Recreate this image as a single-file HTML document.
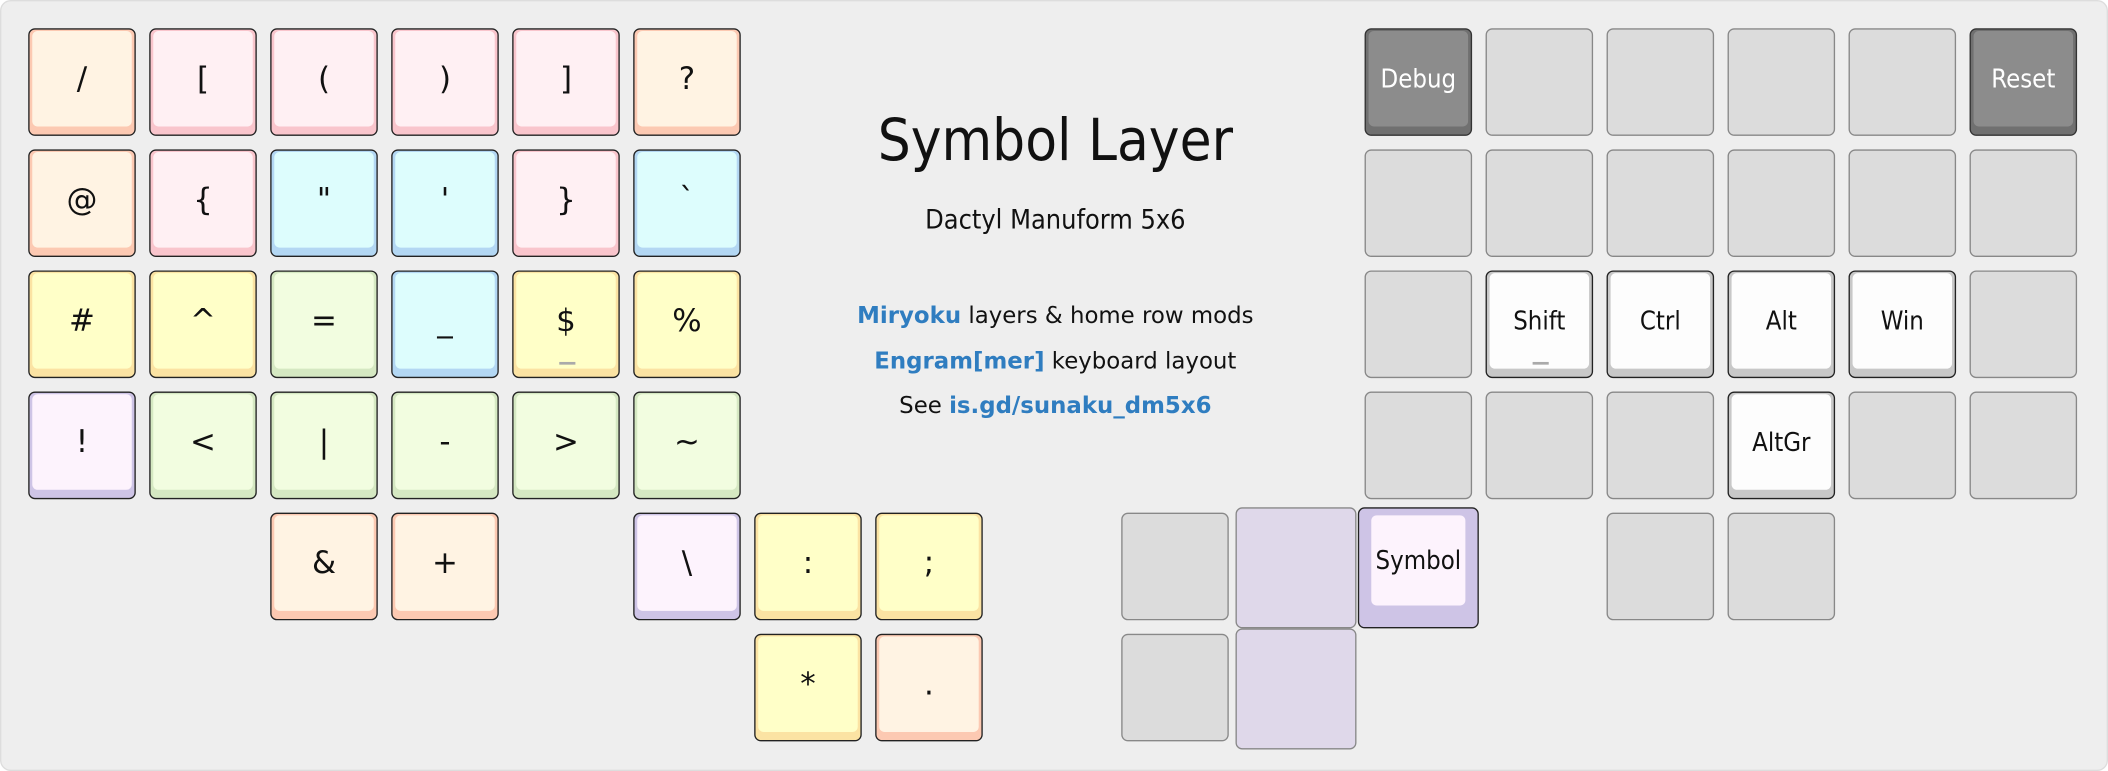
<!DOCTYPE html>
<html><head><meta charset="utf-8"><style>
html,body{margin:0;padding:0;width:2108px;height:771px;overflow:hidden;background:#fff}
#w{position:absolute;left:0;top:0;width:1568px;height:573px;transform:scale(1.34439,1.34555);transform-origin:0 0}
#bg{position:absolute;left:0;top:0;width:1566px;height:571px;background:#eeeeee;border:1px solid #ddd;border-radius:8px}
.k{position:absolute;width:78px;height:78px;border:1px solid #222;border-radius:5px;box-sizing:content-box}
.k .f{position:absolute;left:2px;right:2px;top:1px;bottom:6px;border-radius:4px;display:flex;align-items:center;justify-content:center;font-family:"DejaVu Sans","Liberation Sans",sans-serif;font-size:23px;color:#111}
.g{position:absolute;width:78px;height:78px;border:1px solid #888;border-radius:5px;background:#dcdcdc}
.o{background:#fcc9b2}.o .f{background:#fff3e3}
.p{background:#f9c5cc}.p .f{background:#fff0f3}
.c{background:#b3d7f3}.c .f{background:#ddfdfd}
.y{background:#fbe3a3}.y .f{background:#ffffc8}
.n{background:#d5e8c2}.n .f{background:#f2fde0}
.l{background:#cec4e6}.l .f{background:#fdf3fd}
.w{background:#c8c8c8}.w .f{background:#fdfdfd;font-size:19px;font-family:"DejaVu Sans Condensed","DejaVu Sans",sans-serif}
.d{background:#707070;border-color:#333}.d .f{background:#8c8c8c;color:#fff;font-size:19px;font-family:"DejaVu Sans Condensed","DejaVu Sans",sans-serif}
.u{position:absolute;left:34px;bottom:9px;width:12px;height:2px;background:#aaa}
.t{position:absolute;left:560px;width:450px;text-align:center;font-family:"DejaVu Sans","Liberation Sans",sans-serif;color:#111}
.t b{color:#2f7dc0}
</style></head><body><div id="w"><div id="bg"></div>

<div class="k o" style="left:21px;top:21px"><div class="f">/</div></div>
<div class="k p" style="left:111px;top:21px"><div class="f">[</div></div>
<div class="k p" style="left:201px;top:21px"><div class="f">(</div></div>
<div class="k p" style="left:291px;top:21px"><div class="f">)</div></div>
<div class="k p" style="left:381px;top:21px"><div class="f">]</div></div>
<div class="k o" style="left:471px;top:21px"><div class="f">?</div></div>

<div class="k o" style="left:21px;top:111px"><div class="f">@</div></div>
<div class="k p" style="left:111px;top:111px"><div class="f">{</div></div>
<div class="k c" style="left:201px;top:111px"><div class="f">"</div></div>
<div class="k c" style="left:291px;top:111px"><div class="f">'</div></div>
<div class="k p" style="left:381px;top:111px"><div class="f">}</div></div>
<div class="k c" style="left:471px;top:111px"><div class="f">`</div></div>

<div class="k y" style="left:21px;top:201px"><div class="f">#</div></div>
<div class="k y" style="left:111px;top:201px"><div class="f">^</div></div>
<div class="k n" style="left:201px;top:201px"><div class="f">=</div></div>
<div class="k c" style="left:291px;top:201px"><div class="f">_</div></div>
<div class="k y" style="left:381px;top:201px"><div class="f">$</div><div class="u"></div></div>
<div class="k y" style="left:471px;top:201px"><div class="f">%</div></div>

<div class="k l" style="left:21px;top:291px"><div class="f">!</div></div>
<div class="k n" style="left:111px;top:291px"><div class="f">&lt;</div></div>
<div class="k n" style="left:201px;top:291px"><div class="f">|</div></div>
<div class="k n" style="left:291px;top:291px"><div class="f">-</div></div>
<div class="k n" style="left:381px;top:291px"><div class="f">&gt;</div></div>
<div class="k n" style="left:471px;top:291px"><div class="f">~</div></div>

<div class="k o" style="left:201px;top:381px"><div class="f">&amp;</div></div>
<div class="k o" style="left:291px;top:381px"><div class="f">+</div></div>
<div class="k l" style="left:471px;top:381px"><div class="f">\</div></div>
<div class="k y" style="left:561px;top:381px"><div class="f">:</div></div>
<div class="k y" style="left:651px;top:381px"><div class="f">;</div></div>
<div class="k y" style="left:561px;top:471px"><div class="f">*</div></div>
<div class="k o" style="left:651px;top:471px"><div class="f">.</div></div>

<div class="t" style="top:80px;font-size:43px;font-family:'DejaVu Sans Condensed','DejaVu Sans',sans-serif">Symbol Layer</div>
<div class="t" style="top:151px;font-size:20px;font-family:'DejaVu Sans Condensed','DejaVu Sans',sans-serif">Dactyl Manuform 5x6</div>
<div class="t" style="top:225px;font-size:17px"><b>Miryoku</b> layers &amp; home row mods</div>
<div class="t" style="top:259px;font-size:17px"><b>Engram[mer]</b> keyboard layout</div>
<div class="t" style="top:292px;font-size:17px">See <b>is.gd/sunaku_dm5x6</b></div>

<div class="k d" style="left:1015px;top:21px"><div class="f">Debug</div></div>
<div class="g" style="left:1105px;top:21px"></div>
<div class="g" style="left:1195px;top:21px"></div>
<div class="g" style="left:1285px;top:21px"></div>
<div class="g" style="left:1375px;top:21px"></div>
<div class="k d" style="left:1465px;top:21px"><div class="f">Reset</div></div>

<div class="g" style="left:1015px;top:111px"></div>
<div class="g" style="left:1105px;top:111px"></div>
<div class="g" style="left:1195px;top:111px"></div>
<div class="g" style="left:1285px;top:111px"></div>
<div class="g" style="left:1375px;top:111px"></div>
<div class="g" style="left:1465px;top:111px"></div>

<div class="g" style="left:1015px;top:201px"></div>
<div class="k w" style="left:1105px;top:201px"><div class="f">Shift</div><div class="u"></div></div>
<div class="k w" style="left:1195px;top:201px"><div class="f">Ctrl</div></div>
<div class="k w" style="left:1285px;top:201px"><div class="f">Alt</div></div>
<div class="k w" style="left:1375px;top:201px"><div class="f">Win</div></div>
<div class="g" style="left:1465px;top:201px"></div>

<div class="g" style="left:1015px;top:291px"></div>
<div class="g" style="left:1105px;top:291px"></div>
<div class="g" style="left:1195px;top:291px"></div>
<div class="k w" style="left:1285px;top:291px"><div class="f">AltGr</div></div>
<div class="g" style="left:1375px;top:291px"></div>
<div class="g" style="left:1465px;top:291px"></div>

<div class="g" style="left:834px;top:381px"></div>
<div class="g" style="left:919px;top:377px;width:88px;height:88px;background:#dfd8ea"></div>
<div class="k l" style="left:1010px;top:377px;width:88px;height:88px"><div class="f" style="left:9px;right:9px;top:5px;bottom:16px;font-size:19px;font-family:'DejaVu Sans Condensed','DejaVu Sans',sans-serif">Symbol</div></div>
<div class="g" style="left:1195px;top:381px"></div>
<div class="g" style="left:1285px;top:381px"></div>
<div class="g" style="left:834px;top:471px"></div>
<div class="g" style="left:919px;top:467px;width:88px;height:88px;background:#dfd8ea"></div>
</div></body></html>
